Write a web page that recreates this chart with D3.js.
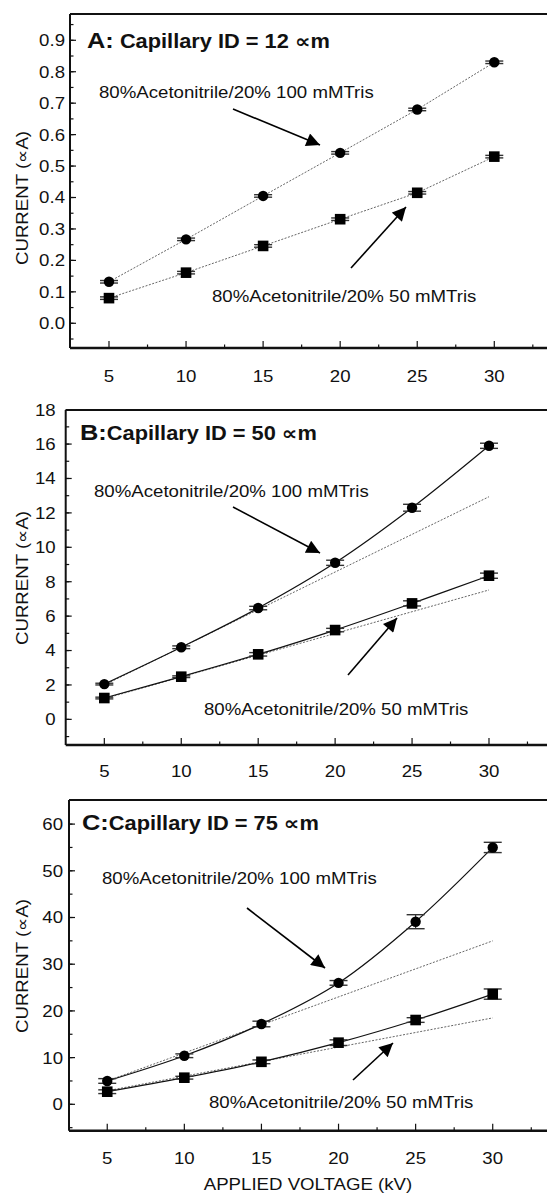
<!DOCTYPE html>
<html><head><meta charset="utf-8">
<script src="https://cdn.jsdelivr.net/npm/d3@7"></script>
<style>body{margin:0;background:#fff}svg{display:block}text{font-family:"Liberation Sans",Arial,"DejaVu Sans",sans-serif;fill:#111}</style>
</head><body>
<script>
// ---------- data ----------
const voltages = [5, 10, 15, 20, 25, 30];
const xTicks = [5, 10, 15, 20, 25, 30];

const currentA100 = [0.132, 0.267, 0.405, 0.542, 0.680, 0.830];
const currentA50  = [0.080, 0.161, 0.246, 0.331, 0.415, 0.530];
const errA100 = [0.004, 0.004, 0.004, 0.004, 0.004, 0.004];
const errA50  = [0.004, 0.004, 0.004, 0.004, 0.004, 0.004];

const currentB100 = [2.05, 4.19, 6.47, 9.10, 12.30, 15.90];
const currentB50  = [1.24, 2.48, 3.78, 5.19, 6.74, 8.35];
const errB100 = [0.05, 0.08, 0.10, 0.15, 0.20, 0.15];
const errB50  = [0.05, 0.05, 0.10, 0.10, 0.15, 0.15];

const currentC100 = [5.0, 10.4, 17.2, 26.0, 39.1, 55.0];
const currentC50  = [2.7, 5.7, 9.1, 13.2, 18.05, 23.6];
const errC100 = [0.5, 0.4, 0.6, 0.5, 1.5, 1.1];
const errC50  = [0.4, 0.3, 0.4, 0.6, 0.5, 1.1];

// linear-fit (dotted) lines, values at fitX
const fitX = [5, 30];
const fitB100 = [2.0, 12.94];
const fitB50  = [1.2, 7.52];
const fitC100 = [5.0, 35.0];
const fitC50  = [2.9, 18.5];

const yTicksA = [0.0, 0.1, 0.2, 0.3, 0.4, 0.5, 0.6, 0.7, 0.8, 0.9];
const yTicksB = [0, 2, 4, 6, 8, 10, 12, 14, 16, 18];
const yTicksC = [0, 10, 20, 30, 40, 50, 60];

const label100 = "80%Acetonitrile/20% 100 mMTris";
const label50 = "80%Acetonitrile/20% 50 mMTris";
const yTitle = "CURRENT (\u221DA)";
const xTitle = "APPLIED VOLTAGE (kV)";

// ---------- drawing ----------
const W = 547, H = 1194, SX = 1.13;
const svg = d3.select("body").append("svg").attr("width", W).attr("height", H);
const defs = svg.append("defs");
defs.append("marker").attr("id", "ah").attr("viewBox", "0 0 10 10").attr("refX", 10).attr("refY", 5)
  .attr("markerWidth", 9.5).attr("markerHeight", 8.5).attr("markerUnits", "strokeWidth").attr("orient", "auto")
  .append("path").attr("d", "M0,0L10,5L0,10Z").attr("fill", "#000");

function txt(g, x, y, s, size, opt = {}) {
  const t = g.append("text")
    .attr("transform", `translate(${x},${y})${opt.rot ? ` rotate(${opt.rot})` : ""} scale(${SX},1)`)
    .attr("font-size", size).attr("text-anchor", opt.anchor || "start")
    .attr("font-weight", opt.weight || "normal");
  if (opt.dy) t.attr("dy", opt.dy);
  t.text(s);
  return t;
}

const panels = [
  { xd: [2.47, 33.42], xr: [70, 547], yd: [-0.0786, 0.9836], yr: [348, 14], yTicks: yTicksA, yMinor: 0.05,
    fmt: d3.format(".1f"), lblGap: 5, xLabY: 382,
    s100: currentA100, s50: currentA50, e100: errA100, e50: errA50, fit100: null, fit50: null,
    title: ["A:", " Capillary ID = 12 \u221Dm"], titleX: 87, titleY: 48,
    l100: [99, 98], l50: [212, 302],
    a100: [[233, 109], [320, 145]], a50: [[351, 268], [406, 207]], yTitleY: 198 },
  { xd: [2.49, 33.77], xr: [65.7, 547], yd: [-1.49, 17.98], yr: [745, 410], yTicks: yTicksB, yMinor: 1,
    fmt: d3.format("d"), lblGap: 10, xLabY: 777,
    s100: currentB100, s50: currentB50, e100: errB100, e50: errB50, fit100: fitB100, fit50: fitB50,
    title: ["B:", "Capillary ID = 50 \u221Dm"], titleX: 80, titleY: 440,
    l100: [94, 497], l50: [204, 715],
    a100: [[233, 507], [320, 553]], a50: [[348, 675], [397, 618]], yTitleY: 578 },
  { xd: [2.52, 33.52], xr: [69, 547], yd: [-5.65, 65.16], yr: [1130.7, 800], yTicks: yTicksC, yMinor: 5,
    fmt: d3.format("d"), lblGap: 6, xLabY: 1164,
    s100: currentC100, s50: currentC50, e100: errC100, e50: errC50, fit100: fitC100, fit50: fitC50,
    title: ["C:", "Capillary ID = 75 \u221Dm"], titleX: 82, titleY: 830,
    l100: [102, 884], l50: [209, 1108],
    a100: [[247, 908], [325, 968]], a50: [[353, 1080], [393, 1043]], yTitleY: 966 }
];

panels.forEach((p, pi) => {
  const g = svg.append("g");
  const x = d3.scaleLinear().domain(p.xd).range(p.xr);
  const y = d3.scaleLinear().domain(p.yd).range(p.yr);
  const x0 = p.xr[0], x1 = p.xr[1], yb = p.yr[0], yt = p.yr[1];

  // frame: left, bottom, top
  g.append("line").attr("x1", x0).attr("x2", x1).attr("y1", yt).attr("y2", yt).attr("stroke", "#111").attr("stroke-width", 2);
  g.append("line").attr("x1", x0).attr("x2", x1).attr("y1", yb).attr("y2", yb).attr("stroke", "#111").attr("stroke-width", 2.4);
  g.append("line").attr("x1", x0).attr("x2", x0).attr("y1", yt).attr("y2", yb).attr("stroke", "#111").attr("stroke-width", 2);

  // y ticks (inward) with minor ticks
  const yMinorTicks = d3.range(Math.ceil(p.yd[0] / p.yMinor) * p.yMinor, p.yd[1], p.yMinor);
  yMinorTicks.forEach(v => {
    const yy = y(v);
    if (yy < yt + 1 || yy > yb - 1) return;
    g.append("line").attr("x1", x0).attr("x2", x0 + 3.5).attr("y1", yy).attr("y2", yy).attr("stroke", "#111").attr("stroke-width", 1.2);
  });
  p.yTicks.forEach(v => {
    const yy = y(v);
    g.append("line").attr("x1", x0).attr("x2", x0 + 6).attr("y1", yy).attr("y2", yy).attr("stroke", "#111").attr("stroke-width", 1.2);
    txt(g, x0 - p.lblGap, yy, p.fmt(v), 16.5, { anchor: "end", dy: "0.36em" });
  });

  // x ticks (inward) with minor
  d3.range(2.5, 33.5, 2.5).forEach(v => {
    const xx = x(v);
    if (xx <= x0 + 1) return;
    const major = v % 5 === 0;
    g.append("line").attr("x1", xx).attr("x2", xx).attr("y1", yb).attr("y2", yb - (major ? 7 : 3.5)).attr("stroke", "#111").attr("stroke-width", 1.2);
  });
  xTicks.forEach(v => txt(g, x(v), p.xLabY, String(v), 16.5, { anchor: "middle" }));

  // y title
  txt(g, 28, p.yTitleY, yTitle, 16.5, { anchor: "middle", rot: -90 });

  // fit / connection lines (dotted)
  const lin = d3.line().x(d => x(d[0])).y(d => y(d[1]));
  if (!p.fit100) {
    [p.s100, p.s50].forEach(s => {
      g.append("path").attr("d", lin(voltages.map((v, i) => [v, s[i]])))
        .attr("fill", "none").attr("stroke", "#555").attr("stroke-width", 0.9).attr("stroke-dasharray", "2,1.5");
    });
  } else {
    [p.fit100, p.fit50].forEach(f => {
      g.append("path").attr("d", lin(fitX.map((v, i) => [v, f[i]])))
        .attr("fill", "none").attr("stroke", "#555").attr("stroke-width", 0.9).attr("stroke-dasharray", "2,1.5");
    });
    const curve = d3.line().x(d => x(d[0])).y(d => y(d[1])).curve(d3.curveCatmullRom.alpha(0.5));
    [p.s100, p.s50].forEach(s => {
      g.append("path").attr("d", curve(voltages.map((v, i) => [v, s[i]])))
        .attr("fill", "none").attr("stroke", "#111").attr("stroke-width", 1.2);
    });
  }

  // error bars
  [[p.s100, p.e100], [p.s50, p.e50]].forEach(([s, e]) => {
    voltages.forEach((v, i) => {
      const xx = x(v), ylo = y(s[i] - e[i]), yhi = y(s[i] + e[i]);
      g.append("line").attr("x1", xx).attr("x2", xx).attr("y1", ylo).attr("y2", yhi).attr("stroke", "#333").attr("stroke-width", 1.2);
      [ylo, yhi].forEach(yy => g.append("line").attr("x1", xx - 9).attr("x2", xx + 9).attr("y1", yy).attr("y2", yy)
        .attr("stroke", "#333").attr("stroke-width", 1.4));
    });
  });

  // markers
  voltages.forEach((v, i) => {
    g.append("circle").attr("cx", x(v)).attr("cy", y(p.s100[i])).attr("r", 5.2).attr("fill", "#000");
    g.append("rect").attr("x", x(v) - 5.3).attr("y", y(p.s50[i]) - 5.3).attr("width", 10.6).attr("height", 10.6).attr("fill", "#000");
  });

  // title
  const t = g.append("text").attr("transform", `translate(${p.titleX},${p.titleY}) scale(${SX},1)`).attr("font-weight", "bold");
  t.append("tspan").attr("font-size", 22.5).text(p.title[0]);
  t.append("tspan").attr("font-size", 19.3).text(p.title[1]);

  // labels + arrows
  txt(g, p.l100[0], p.l100[1], label100, 16.5);
  txt(g, p.l50[0], p.l50[1], label50, 16.5);
  [p.a100, p.a50].forEach(a => {
    g.append("line").attr("x1", a[0][0]).attr("y1", a[0][1]).attr("x2", a[1][0]).attr("y2", a[1][1])
      .attr("stroke", "#000").attr("stroke-width", 1.6).attr("marker-end", "url(#ah)");
  });

  if (pi === 2) txt(g, 308, 1190, xTitle, 16.5, { anchor: "middle" });
});
</script>
</body></html>
